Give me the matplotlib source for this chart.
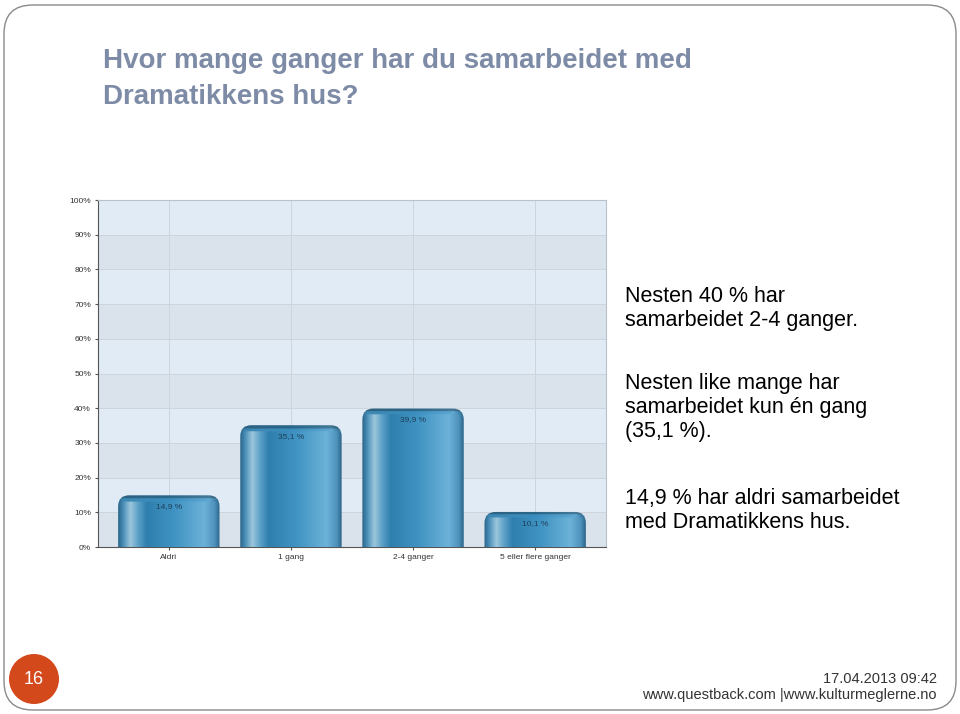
import numpy as np
import matplotlib
matplotlib.use("Agg")
import matplotlib.pyplot as plt
from matplotlib.patches import FancyBboxPatch, Circle
from matplotlib.colors import to_rgb

plt.rcParams["font.family"] = ["Liberation Sans", "DejaVu Sans"]

# ---------- data ----------
categories = ["Aldri", "1 gang", "2-4 ganger", "5 eller flere ganger"]
values = [14.9, 35.1, 39.9, 10.1]
value_labels = ["14,9 %", "35,1 %", "39,9 %", "10,1 %"]
yticks = list(range(0, 101, 10))

title_lines = ["Hvor mange ganger har du samarbeidet med", "Dramatikkens hus?"]
side_text = [
    "Nesten 40 % har\nsamarbeidet 2-4 ganger.",
    "Nesten like mange har\nsamarbeidet kun én gang\n(35,1 %).",
    "14,9 % har aldri samarbeidet\nmed Dramatikkens hus.",
]
page_no = "16"
footer = ["17.04.2013 09:42", "www.questback.com |www.kulturmeglerne.no"]

W, H = 960, 714
fig = plt.figure(figsize=(W / 100, H / 100), dpi=100)
fig.patch.set_facecolor("white")

# slide frame
frame = FancyBboxPatch((4 / W, 4 / H), 952 / W, 705 / H, transform=fig.transFigure,
                       boxstyle="round,pad=0,rounding_size=0.03", fc="none",
                       ec="#8a8a8a", lw=1.0, mutation_aspect=W / H)
fig.patches.append(frame)

# title
fig.text(103 / W, 1 - 61 / H, title_lines[0], fontsize=20, fontweight="bold",
         color="#7d8ba6", va="center", ha="left")
fig.text(103 / W, 1 - 97 / H, title_lines[1], fontsize=20, fontweight="bold",
         color="#7d8ba6", va="center", ha="left")

# side notes
ys = [296, 383, 498]
for t, y in zip(side_text, ys):
    fig.text(625 / W, 1 - (y - 10) / H, t, fontsize=15.5, color="black",
             va="top", ha="left", linespacing=1.2)

# page number circle
circ = Circle((34 / 100, (H - 679) / 100), 25 / 100, transform=fig.dpi_scale_trans,
              fc="#d4491c", ec="none")
fig.patches.append(circ)
fig.text(34 / W, 1 - 679 / H, page_no, fontsize=13, color="white",
         ha="center", va="center")

fig.text(937 / W, 1 - 679 / H, footer[0], fontsize=10.5, color="#333333",
         ha="right", va="center")
fig.text(937 / W, 1 - 695 / H, footer[1], fontsize=10.5, color="#333333",
         ha="right", va="center")

# ---------- chart ----------
ax = fig.add_axes([98 / W, 1 - 547 / H, 508 / W, 347 / H])
x = np.arange(len(categories))
xlo, xhi = -0.58, 3.58
ax.set_xlim(xlo, xhi)
ax.set_ylim(0, 100)

# alternating bands (top band light)
for i, y0 in enumerate(range(0, 100, 10)):
    c = "#dae3ec" if i % 2 == 0 else "#e1ebf5"
    ax.axhspan(y0, y0 + 10, color=c, zorder=0, lw=0)
ax.grid(True, color="#cdd4dc", lw=0.7, zorder=1)
ax.set_axisbelow(True)
ax.set_xticks(x)
ax.set_xticklabels(categories, fontsize=6, color="#333333")
ax.set_yticks(yticks)
ax.set_yticklabels([f"{v}%" for v in yticks], fontsize=6, color="#333333")
ax.tick_params(length=2, color="#555555", pad=3)
for s in ["top", "right"]:
    ax.spines[s].set_color("#b8c2cc")
ax.spines["left"].set_color("#555555")
ax.spines["bottom"].set_color("#555555")

# gradient for bars
stops = [(0.0, "#2a6489"), (0.05, "#4a8fb8"), (0.12, "#9cc6dc"), (0.2, "#5a9fc6"),
         (0.28, "#2f7fae"), (0.55, "#3f93c2"), (0.85, "#6cb2d8"), (0.95, "#4f93bd"),
         (1.0, "#2a6489")]
nx = 200
pos = np.linspace(0, 1, nx)
grad = np.zeros((1, nx, 3))
sp = [s[0] for s in stops]
for ch in range(3):
    grad[0, :, ch] = np.interp(pos, sp, [to_rgb(s[1])[ch] for s in stops])
plain = np.zeros((1, nx, 3))
plain_stops = [(0.0, "#2a6489"), (0.05, "#3f88b4"), (0.5, "#3a8dbd"), (0.9, "#5fa8d2"),
               (1.0, "#2a6489")]
for ch in range(3):
    plain[0, :, ch] = np.interp(pos, [s[0] for s in plain_stops],
                                [to_rgb(s[1])[ch] for s in plain_stops])

bw = 0.83
px_per_x = 508 / (xhi - xlo)
px_per_y = 347 / 100
for xi, v, lab in zip(x, values, value_labels):
    l, r = xi - bw / 2, xi + bw / 2
    patch = FancyBboxPatch((l, -5), bw, v + 5, boxstyle="round,pad=0,rounding_size=0.09",
                           mutation_aspect=px_per_x / px_per_y, fc="none", ec="none", zorder=3)
    ax.add_patch(patch)
    ny = 200
    rows = np.linspace(v, -5, ny)
    img = np.repeat(grad, ny, axis=0)
    # top part: no highlight stripe, then darker cap on the very top
    upper = rows > v - 1.8
    img[upper] = np.repeat(plain, upper.sum(), axis=0)
    cap = rows > v - 0.9
    img[cap] = img[cap] * 0.72
    im = ax.imshow(img, extent=[l, r, -5, v], aspect="auto", zorder=3,
                   interpolation="bilinear")
    im.set_clip_path(patch)
    ax.text(xi, v - 3.2, lab, fontsize=6, color="#1e3f5a", ha="center", va="center", zorder=4)

ax.set_xlim(xlo, xhi)
ax.set_ylim(0, 100)

fig.savefig("out.png", dpi=100)
